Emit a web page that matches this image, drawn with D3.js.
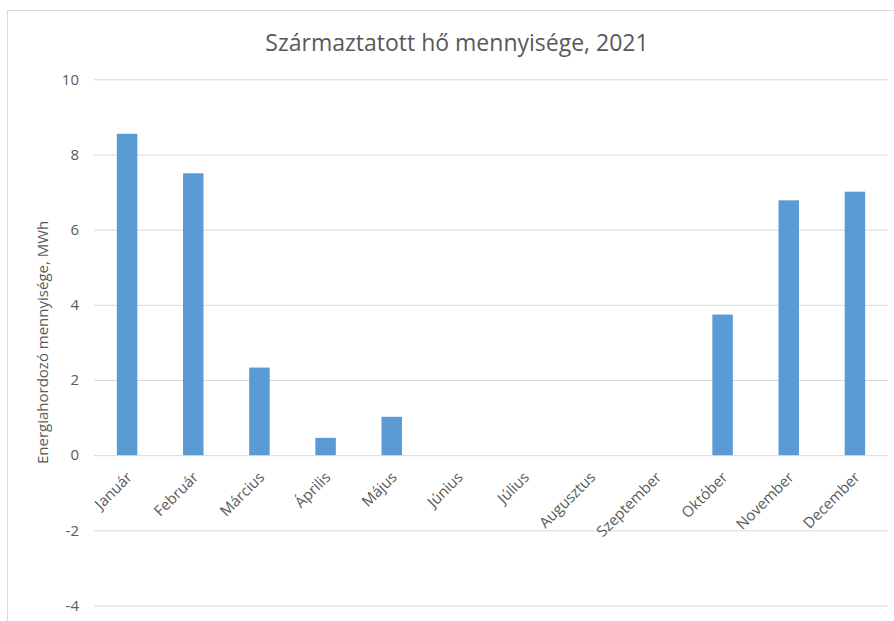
<!DOCTYPE html>
<html>
<head>
<meta charset="utf-8">
<script src="https://d3js.org/d3.v7.min.js"></script>
<style>
  body { margin: 0; background: #fff; }
  svg { font-family: "Open Sans", "Noto Sans", sans-serif; }
  .grid line { stroke: #d9d9d9; stroke-width: 1; }
  .grid path { display: none; }
  .ytick text { fill: #595959; font-size: 15px; }
  .xlab text { fill: #595959; font-size: 15px; }
</style>
</head>
<body>
<div id="chart"></div>
<script>
var months = ["Január", "Február", "Március", "Április", "Május", "Június",
  "Július", "Augusztus", "Szeptember", "Október", "November", "December"];
var heat = [8.55, 7.50, 2.33, 0.46, 1.02, 0, 0, 0, 0, 3.74, 6.78, 7.01];
var yTicks = [-4, -2, 0, 2, 4, 6, 8, 10];

var width = 894, height = 621;
var plotLeft = 94, plotRight = 888, plotTop = 79.3, plotBottom = 605.5;

var svg = d3.select("#chart").append("svg")
  .attr("width", width)
  .attr("height", height);

// chart border
svg.append("rect")
  .attr("x", 7.5).attr("y", 10.5)
  .attr("width", width).attr("height", height)
  .attr("fill", "#fff")
  .attr("stroke", "#d9d9d9");

var x = d3.scaleBand()
  .domain(months)
  .range([plotLeft, plotRight])
  .paddingInner(0.69)
  .paddingOuter(0.345);

var y = d3.scaleLinear()
  .domain([-4, 10])
  .range([plotBottom, plotTop]);

/* grid lines */
svg.append("g")
  .attr("class", "grid")
  .attr("transform", `translate(${plotLeft},0)`)
  .call(d3.axisLeft(y).tickValues(yTicks).tickSize(-(plotRight - plotLeft)).tickFormat(""));

/* y tick labels */
svg.append("g")
  .attr("class", "ytick")
  .selectAll("text")
  .data(yTicks).enter()
  .append("text")
  .attr("x", 79)
  .attr("y", d => y(d))
  .attr("dy", "0.35em")
  .attr("text-anchor", "end")
  .text(d => d);

/* bars */
svg.append("g")
  .selectAll("rect")
  .data(heat).enter()
  .append("rect")
  .attr("x", (d, i) => x(months[i]))
  .attr("width", x.bandwidth())
  .attr("y", d => y(Math.max(d, 0)))
  .attr("height", d => Math.abs(y(d) - y(0)))
  .attr("fill", "#5b9bd5");

/* month labels */
svg.append("g")
  .attr("class", "xlab")
  .selectAll("text")
  .data(months).enter()
  .append("text")
  .attr("text-anchor", "end")
  .attr("transform", d => `translate(${x(d) + x.bandwidth() / 2 + 6},${y(0) + 23}) rotate(-45)`)
  .text(d => d);

/* title */
svg.append("text")
  .attr("x", 457)
  .attr("y", 51)
  .attr("text-anchor", "middle")
  .attr("fill", "#595959")
  .style("font-size", "23px")
  .text("Származtatott hő mennyisége, 2021");

/* y axis title */
svg.append("text")
  .attr("transform", `translate(48,${(plotTop + plotBottom) / 2}) rotate(-90)`)
  .attr("text-anchor", "middle")
  .attr("fill", "#595959")
  .style("font-size", "15px")
  .text("Energiahordozó mennyisége, MWh");
</script>
</body>
</html>
